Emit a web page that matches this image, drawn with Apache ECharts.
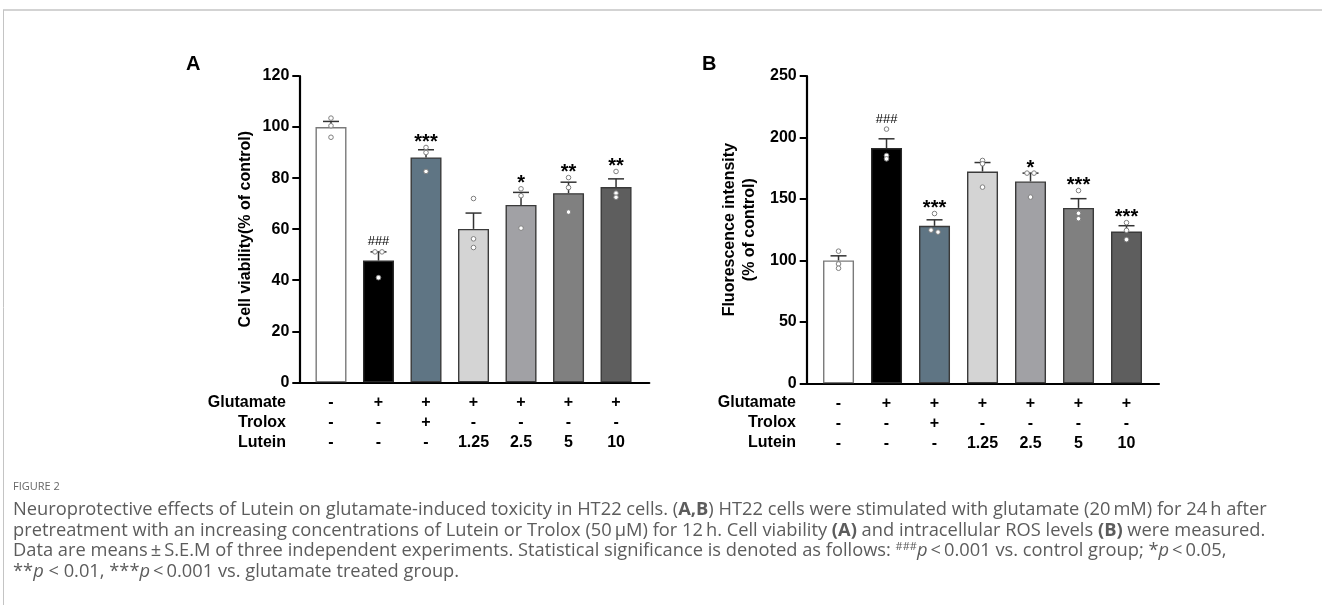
<!DOCTYPE html>
<html>
<head>
<meta charset="utf-8">
<script src="https://cdn.jsdelivr.net/npm/echarts@6/dist/echarts.min.js"></script>
<style>
html,body{margin:0;padding:0;background:#fff;}
#chart{width:1322px;height:605px;}
</style>
</head>
<body>
<div id="chart"></div>
<script>
// ---------- DATA ----------
const glutamateRow = ['-', '+', '+', '+', '+', '+', '+'];
const troloxRow    = ['-', '-', '+', '-', '-', '-', '-'];
const luteinRow    = ['-', '-', '-', '1.25', '2.5', '5', '10'];

const viabilityMean = [100, 47.7, 88.1, 60.1, 69.5, 74.1, 76.5];
const viabilitySem  = [2.2, 3.4, 3.0, 6.2, 4.9, 4.3, 3.2];
const viabilityReps = [[103.5, 100.5, 96], [51.1, 51.1, 41], [92, 90, 82.6], [72, 56.2, 52.8],
                       [75.8, 73.1, 60.4], [80.2, 76.3, 66.7], [82.6, 74.1, 72.5]];
const viabilitySig  = ['', '###', '***', '', '*', '**', '**'];

const rosMean = [100, 191.4, 128.1, 172.3, 164.2, 142.7, 123.5];
const rosSem  = [3.7, 7.5, 4.9, 7.3, 6.8, 7.5, 4.7];
const rosReps = [[107.5, 97.1, 93.6], [206.8, 185.3, 182.6], [138.1, 123, 124.6], [181.3, 178.6, 159.6],
                 [171, 171, 151.5], [156.8, 138.3, 133.9], [130.7, 124.4, 116.9]];
const rosSig  = ['', '###', '***', '', '*', '***', '***'];

const yTicksA = [0, 120, 20];   // min, max, interval
const yTicksB = [0, 250, 50];

// ---------- STYLES ----------
const barColors  = ['#ffffff', '#000000', '#5f7584', '#d4d4d4', '#a1a1a5', '#808080', '#5e5e5e'];
const barBorders = ['#7a7a7a', '#2a2a2a', '#3a3a3a', '#3a3a3a', '#3a3a3a', '#3a3a3a', '#3a3a3a'];
const FONT = 'Liberation Sans, Arial, Helvetica, sans-serif';

const chart = echarts.init(document.getElementById('chart'), null, {renderer: 'canvas'});

function xLabel(v) {
  const i = Math.round(v);
  if (i < 0 || i > 6) return '';
  return glutamateRow[i] + '\n' + troloxRow[i] + '\n' + luteinRow[i];
}

function makeXAxis(gridIndex, min, max) {
  return {
    type: 'value', gridIndex, min, max,
    splitLine: {show: false},
    axisLine: {show: true, onZero: false, lineStyle: {color: '#000', width: 2.2}},
    axisTick: {show: false},
    axisLabel: {
      customValues: [0, 1, 2, 3, 4, 5, 6],
      formatter: xLabel, color: '#000', fontFamily: FONT, fontWeight: 'bold',
      fontSize: 16, lineHeight: 20, margin: 10
    }
  };
}
function makeYAxis(gridIndex, t, name, gap) {
  return {
    type: 'value', gridIndex, min: t[0], max: t[1], interval: t[2],
    name, nameLocation: 'middle', nameGap: gap, nameRotate: 90,
    nameTextStyle: {color: '#000', fontFamily: FONT, fontWeight: 'bold', fontSize: 16, lineHeight: 20, align: 'center'},
    splitLine: {show: false},
    axisLine: {show: true, onZero: false, lineStyle: {color: '#000', width: 2.2}},
    axisTick: {show: true, length: 7, lineStyle: {color: '#000', width: 2}},
    axisLabel: {color: '#000', fontFamily: FONT, fontWeight: 'bold', fontSize: 16, margin: 10}
  };
}

function barSeries(idx, means) {
  return {
    type: 'bar', xAxisIndex: idx, yAxisIndex: idx, barWidth: 31, z: 2,
    data: means.map((v, i) => ({value: [i, v], itemStyle: {color: barColors[i], borderColor: barBorders[i], borderWidth: 1.4}})),
    animation: false
  };
}
function errSeries(idx, means, sems) {
  return {
    type: 'custom', xAxisIndex: idx, yAxisIndex: idx, z: 3,
    data: means.map((v, i) => [i, v, sems[i]]),
    renderItem(params, api) {
      const x = api.value(0), m = api.value(1), e = api.value(2);
      const p0 = api.coord([x, m]), p1 = api.coord([x, m + e]);
      const st = {stroke: '#333', lineWidth: 1.5};
      return {type: 'group', children: [
        {type: 'line', shape: {x1: p0[0], y1: p0[1], x2: p1[0], y2: p1[1]}, style: st},
        {type: 'line', shape: {x1: p1[0] - 8, y1: p1[1], x2: p1[0] + 8, y2: p1[1]}, style: st}
      ]};
    },
    animation: false
  };
}
function dotSeries(idx, reps) {
  return {
    type: 'custom', xAxisIndex: idx, yAxisIndex: idx, z: 4,
    data: reps.map((r, i) => [i].concat(r)),
    renderItem(params, api) {
      const x = api.value(0);
      const pts = [api.value(1), api.value(2), api.value(3)].map(v => api.coord([x, v]));
      pts.sort((a, b) => a[1] - b[1]);
      const children = [];
      for (let k = 0; k < pts.length; k++) {
        let dx = 0;
        if (k > 0 && Math.abs(pts[k][1] - pts[k - 1][1]) < 2.5) { dx = 3.5; pts[k - 1].dx = -3.5; }
        pts[k].dx = dx;
      }
      pts.forEach(p => children.push({type: 'circle', shape: {cx: p[0] + (p.dx || 0), cy: p[1], r: 2.3},
        style: {fill: '#fff', stroke: '#808080', lineWidth: 1}}));
      return {type: 'group', children};
    },
    animation: false
  };
}
function sigSeries(idx, means, sems, reps, sig) {
  return {
    type: 'custom', xAxisIndex: idx, yAxisIndex: idx, z: 5,
    data: means.map((v, i) => [i, Math.max(v + sems[i], ...reps[i])]),
    renderItem(params, api) {
      const i = params.dataIndex;
      const s = sig[i];
      if (!s) return null;
      const p = api.coord([api.value(0), api.value(1)]);
      const hash = s[0] === '#';
      return {type: 'text', x: p[0], y: p[1] - (hash ? 10 : 5),
        style: {text: s, fill: '#000', align: 'center', verticalAlign: 'middle',
          font: hash ? ('normal 13px ' + FONT) : ('bold 20px ' + FONT)}};
    },
    animation: false
  };
}

const rowNames = ['Glutamate', 'Trolox', 'Lutein'];
const graphics = [
  {type: 'line', shape: {x1: 3, y1: 10, x2: 1322, y2: 10}, style: {stroke: '#c4c4c4', lineWidth: 1.5}},
  {type: 'line', shape: {x1: 3.5, y1: 10, x2: 3.5, y2: 605}, style: {stroke: '#c4c4c4', lineWidth: 1}},
];
[286, 796].forEach(xr => rowNames.forEach((n, k) => graphics.push({
  type: 'text', x: xr, y: 402.5 + k * 20,
  style: {text: n, fill: '#000', font: 'bold 16px ' + FONT, align: 'right', verticalAlign: 'middle'}
})));

const capFont = 'Open Sans, Noto Sans, sans-serif';
const capColor = '#5c5c5c';
const CS = 18.3;
graphics.push({type: 'text', x: 13, y: 487, style: {text: 'FIGURE 2', fill: '#666', font: '11px ' + capFont, verticalAlign: 'middle'}});
const capLines = [
  '{n|Neuroprotective effects of Lutein on glutamate-induced toxicity in HT22 cells. (}{b|A,B}{n|) HT22 cells were stimulated with glutamate (20\u2009mM) for 24\u2009h after}',
  '{n|pretreatment with an increasing concentrations of Lutein or Trolox (50\u2009\u03bcM) for 12\u2009h. Cell viability }{b|(A)}{n| and intracellular ROS levels }{b|(B)}{n| were measured.}',
  '{n|Data are means\u2009\u00b1\u2009S.E.M of three independent experiments. Statistical significance is denoted as follows: }{s|###}{i|p}{n|\u2009<\u20090.001 vs. control group; *}{i|p}{n|\u2009<\u20090.05,}',
  '{n|**}{i|p}{n| < 0.01, ***}{i|p}{n|\u2009<\u20090.001 vs. glutamate treated group.}'
];
const rich = {
  n: {fill: capColor, font: CS + 'px ' + capFont},
  b: {fill: capColor, font: 'bold ' + CS + 'px ' + capFont},
  i: {fill: capColor, font: 'italic ' + CS + 'px ' + capFont},
  s: {fill: capColor, font: '11px ' + capFont, verticalAlign: 'top', padding: [0, 0, 9, 0]}
};
capLines.forEach((t, k) => graphics.push({type: 'text', x: 13, y: 510 + k * 20.5,
  style: {text: t, rich, verticalAlign: 'middle', fill: capColor, font: CS + 'px ' + capFont}}));

chart.setOption({
  backgroundColor: '#fff',
  animation: false,
  title: [
    {text: 'A', left: 181, top: 49, textStyle: {fontFamily: FONT, fontWeight: 'bold', fontSize: 20, color: '#000'}},
    {text: 'B', left: 697, top: 49, textStyle: {fontFamily: FONT, fontWeight: 'bold', fontSize: 20, color: '#000'}}
  ],
  grid: [
    {left: 299.3, top: 76, width: 350, height: 306.3},
    {left: 806.7, top: 76, width: 352.3, height: 307.3}
  ],
  xAxis: [makeXAxis(0, -0.667, 6.7), makeXAxis(1, -0.663, 6.677)],
  yAxis: [makeYAxis(0, yTicksA, 'Cell viability(% of control)', 44),
          makeYAxis(1, yTicksB, 'Fluorescence intensity\n(% of control)', 47)],
  series: [
    barSeries(0, viabilityMean), errSeries(0, viabilityMean, viabilitySem), dotSeries(0, viabilityReps),
    sigSeries(0, viabilityMean, viabilitySem, viabilityReps, viabilitySig),
    barSeries(1, rosMean), errSeries(1, rosMean, rosSem), dotSeries(1, rosReps),
    sigSeries(1, rosMean, rosSem, rosReps, rosSig)
  ],
  graphic: graphics
});
</script>
</body>
</html>
